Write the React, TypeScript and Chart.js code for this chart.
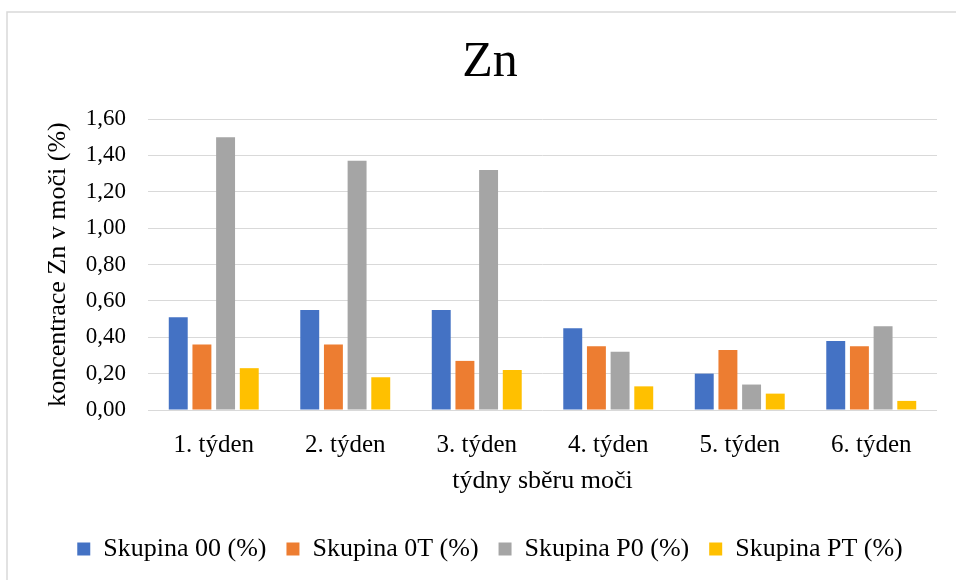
import React, { useEffect, useRef } from "react";
import { Chart, registerables } from "chart.js";

Chart.register(...registerables);

const weeks = ["1. týden", "2. týden", "3. týden", "4. týden", "5. týden", "6. týden"];
const group00 = [0.51, 0.55, 0.55, 0.45, 0.2, 0.38];
const group0T = [0.36, 0.36, 0.27, 0.35, 0.33, 0.35];
const groupP0 = [1.5, 1.37, 1.32, 0.32, 0.14, 0.46];
const groupPT = [0.23, 0.18, 0.22, 0.13, 0.09, 0.05];
const yTicks = [0, 0.2, 0.4, 0.6, 0.8, 1.0, 1.2, 1.4, 1.6];

const FONT = "'Liberation Serif', 'Times New Roman', serif";
const TEXT = "#000000";
const GRID = "#d9d9d9";

// light frame around the whole chart, open at the right and bottom edges
const frame = {
  id: "frame",
  beforeDraw(chart: Chart) {
    const { ctx } = chart;
    ctx.save();
    ctx.fillStyle = "#ffffff";
    ctx.fillRect(0, 0, chart.width, chart.height);
    ctx.strokeStyle = GRID;
    ctx.lineWidth = 1.5;
    ctx.strokeRect(7, 12, chart.width + 20, chart.height + 20);
    ctx.restore();
  },
};

export default function App() {
  const ref = useRef<HTMLCanvasElement | null>(null);

  useEffect(() => {
    if (!ref.current) return;
    const chart = new Chart(ref.current, {
      type: "bar",
      data: {
        labels: weeks,
        datasets: [
          { label: "Skupina 00 (%)", data: group00, backgroundColor: "#4472C4" },
          { label: "Skupina 0T (%)", data: group0T, backgroundColor: "#ED7D31" },
          { label: "Skupina P0 (%)", data: groupP0, backgroundColor: "#A5A5A5" },
          { label: "Skupina PT (%)", data: groupPT, backgroundColor: "#FFC000" },
        ],
      },
      options: {
        responsive: false,
        animation: false,
        layout: { padding: { top: 33, right: 19, left: 43, bottom: 8 } },
        datasets: {
          bar: { categoryPercentage: 0.72, barPercentage: 0.8 },
        },
        plugins: {
          title: {
            display: true,
            text: "Zn",
            color: TEXT,
            font: { family: FONT, size: 50, weight: "normal", lineHeight: 1.2 },
            padding: { top: 0, bottom: 26 },
          },
          legend: {
            position: "bottom",
            labels: {
              color: TEXT,
              font: { family: FONT, size: 26 },
              boxWidth: 13,
              boxHeight: 13,
              padding: 20,
            },
          },
          tooltip: { enabled: false },
        },
        scales: {
          x: {
            afterFit(axis: any) {
              axis.height = 106;
            },
            grid: { display: false },
            border: { display: false },
            ticks: {
              color: TEXT,
              font: { family: FONT, size: 25, lineHeight: 1.2 },
              padding: 12,
              maxRotation: 0,
            },
            title: {
              display: true,
              text: "týdny sběru moči",
              color: TEXT,
              font: { family: FONT, size: 26, lineHeight: 1.2 },
              padding: { top: 4, bottom: 19 },
            },
          },
          y: {
            min: yTicks[0],
            max: yTicks[yTicks.length - 1],
            afterBuildTicks(axis: any) {
              axis.ticks = yTicks.map((v) => ({ value: v }));
            },
            afterFit(axis: any) {
              axis.width = 148 - 43;
            },
            grid: { color: GRID, lineWidth: 1, drawTicks: false },
            border: { display: false },
            ticks: {
              color: TEXT,
              font: { family: FONT, size: 23 },
              padding: 22,
              callback: (v: any) => Number(v).toFixed(2).replace(".", ","),
            },
            title: {
              display: true,
              text: "koncentrace Zn v moči (%)",
              color: TEXT,
              font: { family: FONT, size: 26, lineHeight: 1.2 },
              padding: { top: 0, bottom: 0 },
            },
          },
        },
      },
      plugins: [frame],
    });
    return () => chart.destroy();
  }, []);

  return (
    <div style={{ position: "fixed", left: 0, top: 0, width: 956, height: 580 }}>
      <canvas ref={ref} width={956} height={580} style={{ display: "block" }} />
    </div>
  );
}
